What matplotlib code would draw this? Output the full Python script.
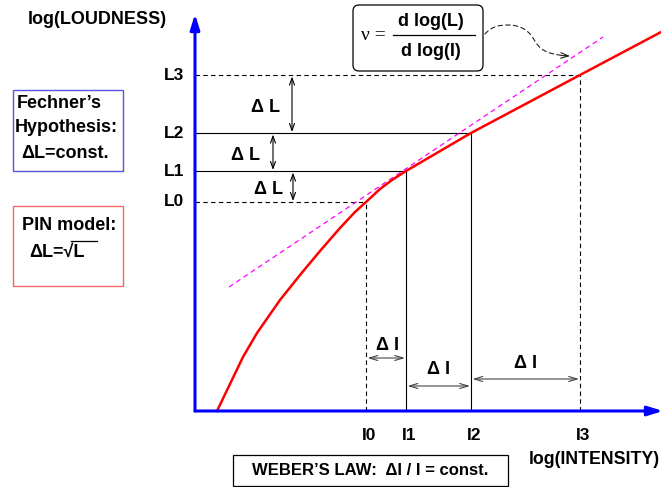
import matplotlib
matplotlib.use("Agg")
import matplotlib.pyplot as plt
from matplotlib.patches import Rectangle, FancyBboxPatch, FancyArrowPatch
from matplotlib.path import Path

plt.rcParams['font.family'] = ['Liberation Sans', 'DejaVu Sans']
plt.rcParams['font.weight'] = 'bold'

# ---- data (diagram units: log intensity, log loudness) ----
intensity_labels = ['I0', 'I1', 'I2', 'I3']
intensity = [17.1, 21.1, 27.6, 38.5]
loudness_labels = ['L0', 'L1', 'L2', 'L3']
loudness = [20.9, 24.0, 27.8, 33.6]
level_styles = ['--', '-', '-', '--']

curve_x = [2.2, 4.8, 6.2, 8.5, 10.5, 12.5, 14.5, 16.0, 17.1, 18.5, 19.7, 21.1, 27.6, 38.5, 46.8]
curve_y = [0.0, 5.4, 7.8, 11.1, 13.6, 16.0, 18.3, 19.9, 20.9, 22.2, 23.1, 24.0, 27.8, 33.6, 38.0]

tangent_x = [3.4, 40.8]
tangent_y = [12.4, 37.4]

dL_arrow_x = [9.8, 7.8, 9.7]        # between L0-L1, L1-L2, L2-L3
dL_label_xy = [(7.3, 22.1), (5.0, 25.6), (7.0, 30.3)]
dI_arrow_y = [5.3, 2.5, 3.2]        # between I0-I1, I1-I2, I2-I3
dI_label_xy = [(19.2, 6.6), (24.3, 4.2), (33.0, 4.8)]

x_axis_end = 46.8
y_axis_end = 39.7

fig = plt.figure(figsize=(6.61, 4.87), dpi=100)
ax = fig.add_axes([0, 0, 1, 1])
ax.set_xlim(-19.5, 46.6)
ax.set_ylim(-7.6, 41.1)
ax.axis('off')

FS = 13
TFS = 12.5
black_lw = 0.8

# level lines and intensity lines
for I, L, ls in zip(intensity, loudness, level_styles):
    kw = dict(color='black', lw=black_lw)
    if ls == '--':
        kw.update(ls='--', dashes=(4, 3))
    ax.plot([0, I], [L, L], **kw)
    ax.plot([I, I], [0, L], **kw)

# tangent
ax.plot(tangent_x, tangent_y, color='#ff00ff', lw=0.9, ls='--', dashes=(4, 3))

# curve
ax.plot(curve_x, curve_y, color='#ff0000', lw=1.8, solid_joinstyle='round')

# axes arrows
ax.annotate('', xy=(0, y_axis_end), xytext=(0, 0), annotation_clip=False,
            arrowprops=dict(arrowstyle='-|>,head_length=0.9,head_width=0.28', color='#0000ff',
                            lw=2.2, shrinkA=0, shrinkB=0))
ax.annotate('', xy=(x_axis_end, 0), xytext=(0, 0), annotation_clip=False,
            arrowprops=dict(arrowstyle='-|>,head_length=0.9,head_width=0.28', color='#0000ff',
                            lw=2.2, shrinkA=0, shrinkB=0))

# tick labels
for lab, L in zip(loudness_labels, loudness):
    ax.text(-1.1, L, lab, ha='right', va='center', fontsize=TFS, fontweight='bold')
for lab, I in zip(intensity_labels, intensity):
    ax.text(I + 0.3, -2.5, lab, ha='center', va='center', fontsize=TFS, fontweight='bold')

ax.text(-9.8, 39.1, 'log(LOUDNESS)', ha='center', va='center', fontsize=FS, fontweight='bold')
ax.text(46.5, -4.9, 'log(INTENSITY)', ha='right', va='center', fontsize=12.8, fontweight='bold')

# delta L arrows
lowers = loudness[:-1]
uppers = loudness[1:]
for x, lo, hi, (lx, ly) in zip(dL_arrow_x, lowers, uppers, dL_label_xy):
    ax.annotate('', xy=(x, hi - 0.15), xytext=(x, lo + 0.1),
                arrowprops=dict(arrowstyle='<->,head_length=0.5,head_width=0.18',
                                color='black', lw=0.8, shrinkA=0, shrinkB=0))
    ax.text(lx, ly, 'Δ L', ha='center', va='center', fontsize=FS, fontweight='bold')

# delta I arrows
lefts = intensity[:-1]
rights = intensity[1:]
for y, lo, hi, (lx, ly) in zip(dI_arrow_y, lefts, rights, dI_label_xy):
    ax.annotate('', xy=(hi - 0.1, y), xytext=(lo + 0.15, y),
                arrowprops=dict(arrowstyle='<->,head_length=0.6,head_width=0.18',
                                color='#444444', lw=0.8, shrinkA=0, shrinkB=0))
    ax.text(lx, ly, 'Δ I', ha='center', va='center', fontsize=FS, fontweight='bold')

# Fechner box
ax.add_patch(Rectangle((-18.2, 24.0), 11.0, 8.1, fill=False, ec='#5555dd', lw=1.0))
ax.text(-17.8, 30.7, "Fechner’s", ha='left', va='center', fontsize=FS, fontweight='bold')
ax.text(-18.0, 28.3, "Hypothesis:", ha='left', va='center', fontsize=FS, fontweight='bold')
ax.text(-17.4, 25.7, "ΔL=const.", ha='left', va='center', fontsize=FS, fontweight='bold')

# PIN box
ax.add_patch(Rectangle((-18.2, 12.5), 11.0, 8.0, fill=False, ec='#f06666', lw=1.0))
ax.text(-17.3, 18.5, "PIN model:", ha='left', va='center', fontsize=FS, fontweight='bold')
ax.text(-16.6, 15.9, "ΔL=√L", ha='left', va='center', fontsize=FS, fontweight='bold')
ax.plot([-12.4, -9.8], [17.0, 17.0], color='black', lw=0.9)

# nu box
ax.add_patch(FancyBboxPatch((15.8, 34.0), 13.0, 6.6,
                            boxstyle='round,pad=0,rounding_size=0.6',
                            fill=False, ec='black', lw=0.9))
ax.text(16.6, 37.5, 'ν =', ha='left', va='center', fontsize=FS + 1, fontweight='normal',
        family=['Liberation Serif'])
ax.text(23.6, 38.9, 'd log(L)', ha='center', va='center', fontsize=FS, fontweight='bold')
ax.text(23.6, 35.9, 'd log(I)', ha='center', va='center', fontsize=FS, fontweight='bold')
ax.plot([19.8, 28.0], [37.6, 37.6], color='black', lw=0.9)

# curvy dashed pointer from nu box to tangent
verts = [(29.0, 37.7),
         (29.7, 38.5), (30.5, 38.6), (31.3, 38.6),
         (32.5, 38.6), (33.3, 38.1), (33.8, 37.3),
         (34.5, 36.1), (35.0, 35.7), (37.3, 35.5)]
codes = [Path.MOVETO] + [Path.CURVE4] * 9
ax.add_patch(FancyArrowPatch(path=Path(verts, codes), arrowstyle='-',
                             color='#222222', lw=0.8, ls=(0, (4, 3))))
ax.annotate('', xy=(37.5, 35.5), xytext=(36.6, 35.55),
            arrowprops=dict(arrowstyle='->,head_length=0.55,head_width=0.2',
                            color='#222222', lw=0.8, shrinkA=0, shrinkB=0))

# Weber box
ax.add_patch(Rectangle((3.8, -7.5), 27.5, 3.1, fill=False, ec='black', lw=0.9))
ax.text(17.5, -5.95, "WEBER’S LAW:  ΔI / I = const.", ha='center', va='center',
        fontsize=12, fontweight='bold')

fig.savefig('out.png', dpi=100)
